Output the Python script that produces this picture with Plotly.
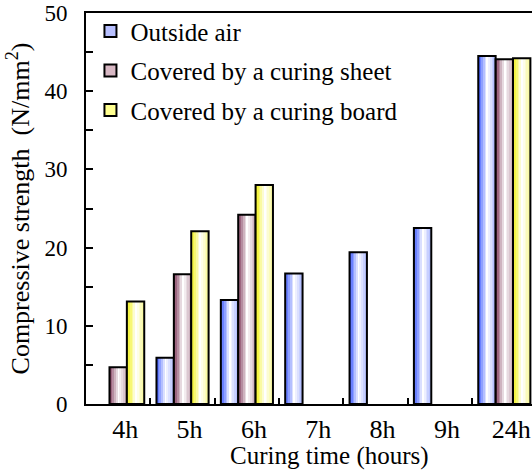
import plotly.graph_objects as go

categories = ["4h", "5h", "6h", "7h", "8h", "9h", "24h"]
outside_air = [None, 5.9, 13.3, 16.7, 19.4, 22.5, 44.5]
curing_sheet = [4.7, 16.6, 24.2, None, None, None, 44.1]
curing_board = [13.1, 22.1, 28.0, None, None, None, 44.2]
series_names = ["Outside air", "Covered by a curing sheet", "Covered by a curing board"]
y_ticks = [0, 10, 20, 30, 40, 50]

series = [outside_air, curing_sheet, curing_board]
base_colors = [(50, 80, 255), (120, 45, 80), (240, 240, 0)]
legend_colors = ["#b8c0ff", "#d8b8c4", "#ffff90"]

W = 0.27       # width of one bar (category units)
N = 10         # strips used to imitate the cylindrical shading


def shade(t):
    if t <= 0.55:
        return 1 - t / 0.55
    return 0.4 * (t - 0.55) / 0.45


def mix(c, f):
    r, g, b = (int(round(255 - (255 - ch) * f)) for ch in c)
    return f"rgb({r},{g},{b})"


fig = go.Figure()
font = "Liberation Serif, Times New Roman, serif"

for i, (vals, name) in enumerate(zip(series, series_names)):
    start = (i - 1) * W - W / 2
    # legend entry
    fig.add_trace(go.Bar(
        x=[categories[0]], y=[None], name=name, legendgroup=name,
        marker=dict(color=legend_colors[i], line=dict(color="black", width=2)),
        showlegend=True,
    ))
    # gradient strips
    for k in range(N):
        t = (k + 0.5) / N
        fig.add_trace(go.Bar(
            x=categories, y=vals, legendgroup=name, showlegend=False,
            offset=start + k * W / N, width=W / N * 1.02,
            marker=dict(color=mix(base_colors[i], shade(t)), line=dict(width=0)),
            hoverinfo="skip",
        ))
    # outline
    fig.add_trace(go.Bar(
        x=categories, y=vals, legendgroup=name, showlegend=False,
        offset=start, width=W,
        marker=dict(color="rgba(0,0,0,0)", line=dict(color="black", width=2)),
        name=name,
    ))

fig.update_layout(
    width=532, height=472,
    margin=dict(l=86, r=0, t=13, b=68),
    barmode="overlay",
    plot_bgcolor="white", paper_bgcolor="white",
    font=dict(family=font, size=23, color="black"),
    legend=dict(
        x=0.01, y=1.012, xanchor="left", yanchor="top",
        bgcolor="rgba(0,0,0,0)", traceorder="grouped", tracegroupgap=4,
        font=dict(size=25), itemwidth=30,
    ),
    showlegend=True,
    annotations=[dict(
        text="Curing time (hours)", xref="paper", yref="paper",
        x=0.547, y=-0.133, xanchor="center", yanchor="middle",
        showarrow=False, font=dict(size=25),
    )],
)

fig.update_xaxes(
    type="category", categoryorder="array", categoryarray=categories,
    range=[-0.5, 6.43],
    showline=True, linecolor="black", linewidth=2, mirror=True,
    ticks="inside", tickson="boundaries", ticklen=6, tickwidth=1.5, tickcolor="black",
    ticklabelshift=7, ticklabelstandoff=1,
    tickfont=dict(size=26),
    showgrid=False, zeroline=False,
)

fig.update_yaxes(
    range=[0, 50], tickvals=y_ticks,
    showline=True, linecolor="black", linewidth=2, mirror=False,
    ticks="inside", ticklen=7, tickwidth=1.5, tickcolor="black",
    minor=dict(ticks="inside", ticklen=7, tickwidth=1.5, tickcolor="black", dtick=5, showgrid=False),
    ticklabelstandoff=12,
    tickfont=dict(size=23),
    showgrid=False, zeroline=False,
    title=dict(text="Compressive strength  (N/mm<sup>2</sup>)", standoff=7, font=dict(size=26)),
)

fig.write_html("out.html")
